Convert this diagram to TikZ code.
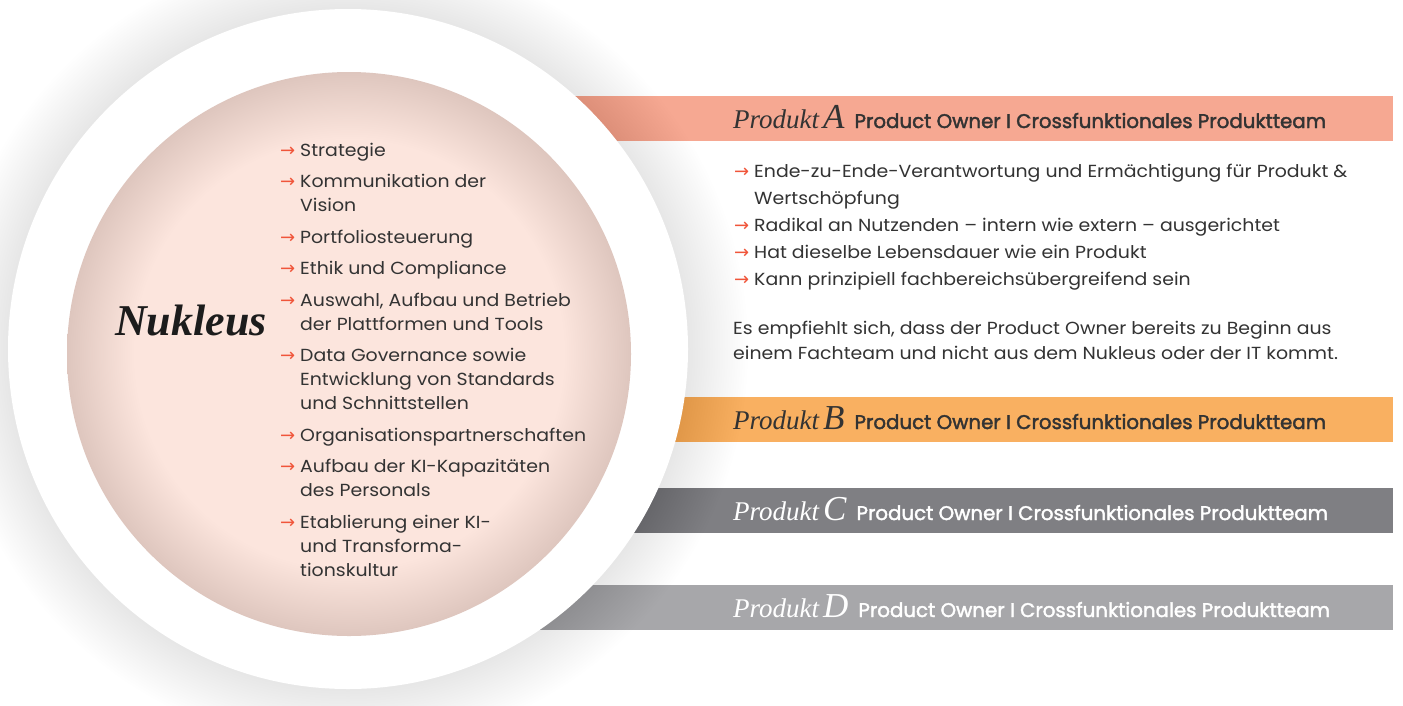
\documentclass[tikz,border=0pt]{standalone}
\usepackage{fontspec}
\setmainfont{Poppins}[FakeStretch=1.08]
\newfontfamily\serifit{Liberation Serif}
\newfontfamily\arrowfont{DejaVu Sans}
\newfontfamily\titlefont{Poppins}[FakeBold=2]
\definecolor{barA}{HTML}{F6A892}
\definecolor{barB}{HTML}{F9B061}
\definecolor{barC}{HTML}{7F7F83}
\definecolor{barD}{HTML}{A7A7AA}
\definecolor{nucin}{HTML}{FCE5DD}
\definecolor{nucout}{HTML}{DEC6BE}
\definecolor{arrowred}{HTML}{F0553A}
\definecolor{txtdark}{HTML}{333333}
\definecolor{nukdark}{HTML}{1C1C1C}
\pgfdeclareradialshading{nucleus}{\pgfpoint{0bp}{0bp}}{color(0bp)=(nucin); color(19bp)=(nucin); color(25bp)=(nucout); color(50bp)=(nucout)}
% bullet arrow, hung to the left of the line
\newcommand\bul{\llap{\textcolor{arrowred}{\arrowfont\fontsize{18}{18}\selectfont →}\hspace{5pt}}}
\newcommand\firstline{\vrule height 14pt width 0pt}
\begin{document}
\begin{tikzpicture}[x=1pt,y=-1pt,
  bartitle/.style={anchor=base west,inner sep=0pt},
  listtext/.style={anchor=north west,inner sep=0pt,align=left,text=txtdark,font=\fontsize{17.5}{24}\selectfont}]
\useasboundingbox (0,0) rectangle (1403,705);
\fill[white] (0,0) rectangle (1403,705);
\coordinate (c) at (348,349);
\coordinate (n) at (349,354);
% product bars
\foreach \p/\y/\col/\tcol in {A/96/barA/txtdark,B/397/barB/txtdark,C/488/barC/white,D/585/barD/white}{
  \fill[\col] (350,\y) rectangle (1393,\y+45);
  \node[bartitle,text=\tcol] (title\p) at (733,\y+32) {{\serifit\itshape\fontsize{27}{27}\selectfont Produkt}\hspace{4pt}{\serifit\itshape\fontsize{35}{35}\selectfont \p}\hspace{10pt}{\titlefont\fontsize{19.8}{20}\selectfont Product Owner I Crossfunktionales Produktteam}};
}
% shadow of the outer circle
\foreach \i in {1,...,24}
  \fill[black,opacity=0.005] (c) circle[radius=340pt+\i*2.5pt];
\fill[white] (c) circle[radius=340pt];
\shade[shading=nucleus] (n) circle[radius=282pt];
% nucleus
\node[anchor=base west,inner sep=0pt,text=nukdark,font=\serifit\bfseries\itshape\fontsize{44}{44}\selectfont] (nukleus) at (115,335) {Nukleus};
\node[listtext] (nukleuslist) at (300,142) {\firstline\bul Strategie\\[7.5pt]
  \bul Kommunikation der\\ Vision\\[7.5pt]
  \bul Portfoliosteuerung\\[7.5pt]
  \bul Ethik und Compliance\\[7.5pt]
  \bul Auswahl, Aufbau und Betrieb\\ der Plattformen und Tools\\[7.5pt]
  \bul Data Governance sowie\\ Entwicklung von Standards\\ und Schnittstellen\\[7.5pt]
  \bul Organisationspartnerschaften\\[7.5pt]
  \bul Aufbau der KI-Kapazitäten\\ des Personals\\[7.5pt]
  \bul Etablierung einer KI-\\ und Transforma-\\ tionskultur};
% product A details
\node[listtext,font=\fontsize{17.5}{27}\selectfont] (listA) at (754,163) {\firstline\bul Ende-zu-Ende-Verantwortung und Ermächtigung für Produkt \&\\
  Wertschöpfung\\
  \bul Radikal an Nutzenden – intern wie extern – ausgerichtet\\
  \bul Hat dieselbe Lebensdauer wie ein Produkt\\
  \bul Kann prinzipiell fachbereichsübergreifend sein};
\node[listtext,font=\fontsize{17.5}{25}\selectfont] (hint) at (733,320) {\firstline Es empfiehlt sich, dass der Product Owner bereits zu Beginn aus\\
  einem Fachteam und nicht aus dem Nukleus oder der IT kommt.};
\end{tikzpicture}
\end{document}
